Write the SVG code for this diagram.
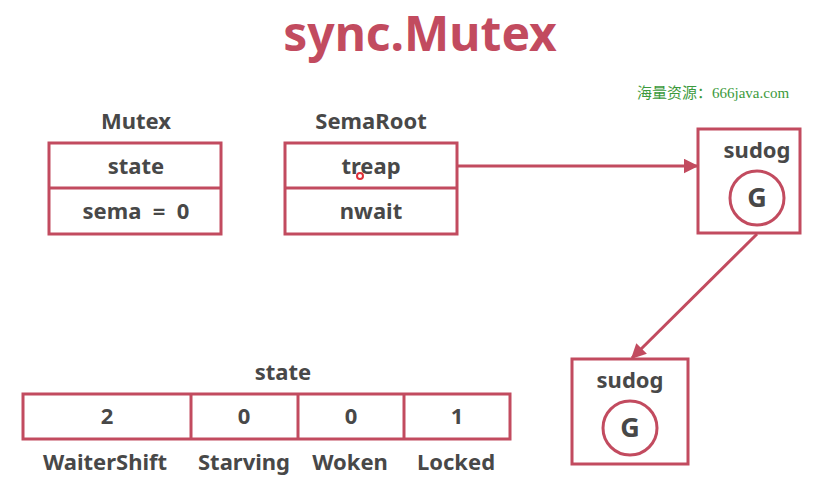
<svg xmlns="http://www.w3.org/2000/svg" width="836" height="484" viewBox="0 0 836 484">
<style>
.box{fill:#fff;stroke:#c24b5f;stroke-width:3}
.ln{stroke:#c24b5f;stroke-width:3;fill:none}
.t{font-family:"Noto Sans","Open Sans",sans-serif;font-weight:bold;fill:#484848;text-anchor:middle;font-size:22px}
.title{font-family:"Noto Sans","Open Sans",sans-serif;font-weight:bold;fill:#c24b5f;text-anchor:middle;font-size:48px}
.wm{font-family:"Liberation Serif","Noto Sans CJK SC",serif;fill:#3c9a3c;font-size:15px}
</style>
<defs>
<marker id="ah" viewBox="0 0 10 10" refX="9" refY="5" markerWidth="5" markerHeight="5" orient="auto" markerUnits="strokeWidth">
<path d="M0,0 L10,5 L0,10 z" fill="#c24b5f"/>
</marker>
</defs>
<rect width="836" height="484" fill="#fff"/>
<text class="title" x="420" y="51">sync.Mutex</text>
<text class="wm" x="637" y="98">海量资源：666java.com</text>

<g id="mutex">
<text class="t" x="136" y="129">Mutex</text>
<rect class="box" x="49" y="143" width="172" height="91"/>
<line class="ln" x1="49" y1="188" x2="221" y2="188"/>
<text class="t" x="136" y="174">state</text>
<text class="t" x="136" y="219" xml:space="preserve">sema  =  0</text>
</g>

<g id="semaroot">
<text class="t" x="371" y="129">SemaRoot</text>
<rect class="box" x="285" y="143" width="172" height="91"/>
<line class="ln" x1="285" y1="188" x2="457" y2="188"/>
<text class="t" x="371" y="174">treap</text>
<text class="t" x="371" y="219">nwait</text>
<circle cx="360" cy="176" r="3" fill="none" stroke="#e0303a" stroke-width="2"/>
</g>

<g id="sudog1">
<rect class="box" x="698" y="129" width="102" height="104"/>
<text class="t" x="757" y="158">sudog</text>
<circle class="ln" cx="757" cy="198" r="27"/>
<text class="t" x="757" y="207" style="font-size:27px">G</text>
</g>

<g id="sudog2">
<rect class="box" x="572" y="359" width="116" height="105"/>
<text class="t" x="630" y="388">sudog</text>
<circle class="ln" cx="630" cy="428" r="27"/>
<text class="t" x="630" y="437" style="font-size:27px">G</text>
</g>

<g id="statebits">
<text class="t" x="283" y="380">state</text>
<rect class="box" x="23" y="394" width="487" height="45"/>
<line class="ln" x1="191" y1="394" x2="191" y2="439"/>
<line class="ln" x1="298" y1="394" x2="298" y2="439"/>
<line class="ln" x1="404" y1="394" x2="404" y2="439"/>
<text class="t" x="107" y="424">2</text>
<text class="t" x="244" y="424">0</text>
<text class="t" x="351" y="424">0</text>
<text class="t" x="457" y="424">1</text>
<text class="t" x="105" y="470">WaiterShift</text>
<text class="t" x="244" y="470">Starving</text>
<text class="t" x="350" y="470">Woken</text>
<text class="t" x="456" y="470">Locked</text>
</g>

<g id="connectors">
<line class="ln" x1="457" y1="166" x2="697" y2="166" marker-end="url(#ah)"/>
<line class="ln" x1="757" y1="234" x2="632" y2="358" marker-end="url(#ah)"/>
</g>
</svg>
